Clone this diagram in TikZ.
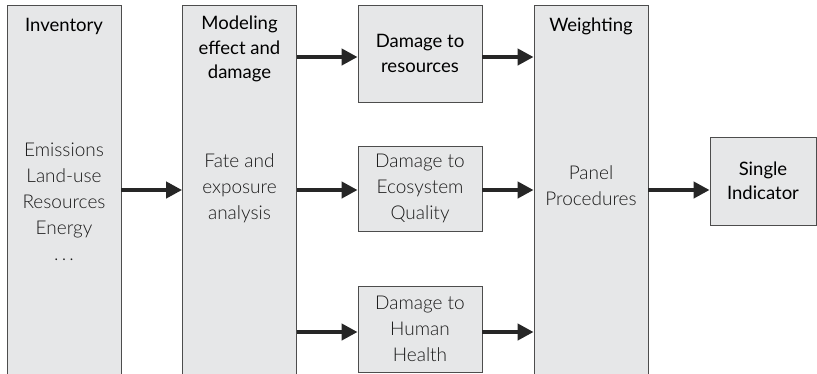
\documentclass[tikz,border=0pt]{standalone}
\usepackage{fontspec}
\setmainfont{Lato}
\newfontfamily\lightfont{Lato Light}
\usetikzlibrary{positioning,arrows.meta}
\definecolor{boxgray}{HTML}{E6E7E8}
\definecolor{linegray}{HTML}{4D4D4D}
\definecolor{textgray}{HTML}{1A1A1A}

\begin{document}
\begin{tikzpicture}[x=1pt,y=-1pt,>={Triangle[length=16pt,width=16pt]},
  box/.style={rectangle,draw=linegray,fill=boxgray,line width=0.8pt,inner sep=0pt},
  column/.style={box,minimum width=114pt,minimum height=370pt},
  head/.style={align=center,font=\fontsize{18.5}{24.5}\selectfont,text=black},
  body/.style={align=center,font=\lightfont\fontsize{19}{26}\selectfont,text=textgray},
  flow/.style={->,line width=4pt,draw=black!85}]
\useasboundingbox (0,0) rectangle (817,373);
\clip (0,0) rectangle (817,373);
% columns
\node[column] (inv) at (64,190) {};
\node[column] (mod) at (239.5,190) {};
\node[column] (wgt) at (591,190) {};
\node[head] (invtitle) at ([yshift=-22pt]inv.north) {Inventory};
\node[body] (invlist) at ([yshift=-12pt]inv.center) {Emissions\\Land-use\\Resources\\Energy\\.\,.\,.};
\node[head] (modtitle) at ([yshift=-44.5pt]mod.north) {Modeling\\effect and\\damage};
\node[body] (modtext) at ([yshift=2pt]mod.center) {Fate and\\exposure\\analysis};
\node[head] (wgttitle) at ([yshift=-22pt]wgt.north) {Weighting};
\node[body] (wgttext) at ([yshift=4.5pt]wgt.center) {Panel\\Procedures};
% damage boxes
\node[box,head,minimum width=124pt,minimum height=97pt] (res) at (420,53.5) {Damage to\\resources};
\node[box,body,minimum width=124pt,minimum height=85pt] (eco) at (420,188.5) {Damage to\\Ecosystem\\Quality};
\node[box,body,minimum width=124pt,minimum height=86pt] (hh) at (420,329) {Damage to\\Human\\Health};
\node[box,head,minimum width=106pt,minimum height=88pt] (sing) at (763,181) {Single\\Indicator};
% arrows
\draw[flow] (inv) -- (mod);
\coordinate (resin) at ([yshift=-3.5pt]res.west);
\coordinate (resout) at ([yshift=-3.5pt]res.east);
\coordinate (ecoin) at ([yshift=-1.5pt]eco.west);
\coordinate (ecoout) at ([yshift=-1.5pt]eco.east);
\coordinate (hhin) at ([yshift=-3pt]hh.west);
\coordinate (hhout) at ([yshift=-3pt]hh.east);
\draw[flow] (mod.east |- resin) -- (resin);
\draw[flow] (mod.east |- ecoin) -- (ecoin);
\draw[flow] (mod.east |- hhin) -- (hhin);
\draw[flow] (resout) -- (wgt.west |- resout);
\draw[flow] (ecoout) -- (wgt.west |- ecoout);
\draw[flow] (hhout) -- (wgt.west |- hhout);
\draw[flow] (wgt) -- (sing.west |- wgt);
\end{tikzpicture}
\end{document}
